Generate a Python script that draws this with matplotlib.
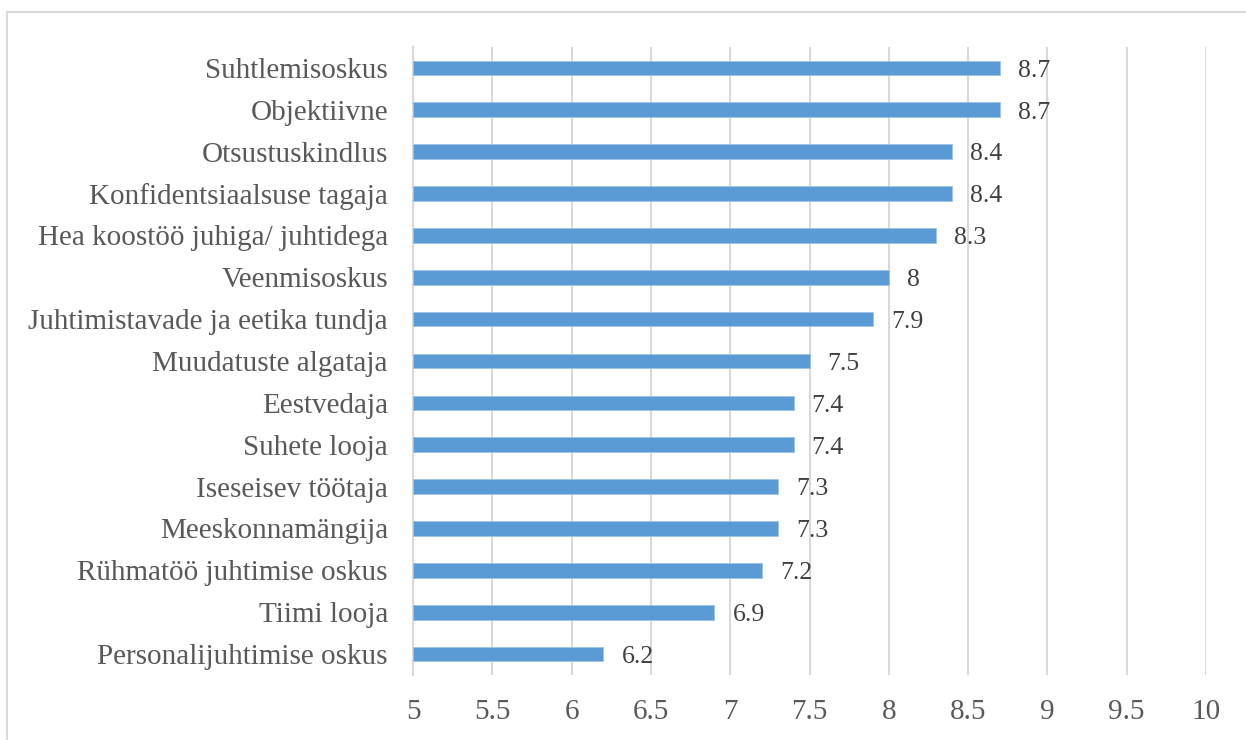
import matplotlib
matplotlib.use("Agg")
import matplotlib.pyplot as plt
from matplotlib.patches import Rectangle

categories = [
    "Suhtlemisoskus",
    "Objektiivne",
    "Otsustuskindlus",
    "Konfidentsiaalsuse tagaja",
    "Hea koostöö juhiga/ juhtidega",
    "Veenmisoskus",
    "Juhtimistavade ja eetika tundja",
    "Muudatuste algataja",
    "Eestvedaja",
    "Suhete looja",
    "Iseseisev töötaja",
    "Meeskonnamängija",
    "Rühmatöö juhtimise oskus",
    "Tiimi looja",
    "Personalijuhtimise oskus",
]
values = [8.7, 8.7, 8.4, 8.4, 8.3, 8.0, 7.9, 7.5, 7.4, 7.4, 7.3, 7.3, 7.2, 6.9, 6.2]
value_labels = ["8.7", "8.7", "8.4", "8.4", "8.3", "8", "7.9", "7.5", "7.4", "7.4",
                "7.3", "7.3", "7.2", "6.9", "6.2"]
x_ticks = [5, 5.5, 6, 6.5, 7, 7.5, 8, 8.5, 9, 9.5, 10]
x_tick_labels = ["5", "5.5", "6", "6.5", "7", "7.5", "8", "8.5", "9", "9.5", "10"]

BASE = 5.0
BAR_COLOR = "#5b9bd5"
TEXT_COLOR = "#595959"
GRID_COLOR = "#d9d9d9"
FONT = "Liberation Serif"
FS = 21

W, H = 1246, 740
fig = plt.figure(figsize=(W / 100, H / 100), dpi=100)
ax = fig.add_axes([413 / W, 1 - 675 / H, (1206 - 413) / W, (675 - 47) / H])

ypos = list(range(len(categories)))
widths = [v - BASE for v in values]
ax.barh(ypos, widths, left=BASE, height=0.35, color=BAR_COLOR,
        edgecolor="#9dc3e6", linewidth=0.6, zorder=3)

for y, v, lab in zip(ypos, values, value_labels):
    ax.annotate(lab, xy=(v, y), xytext=(13, -2), textcoords="offset points",
                va="center", ha="left", fontsize=FS - 2.5, color="#404040",
                family=FONT)

ax.set_xlim(5, 10)
ax.set_ylim(len(categories) - 0.5, -0.5)
ax.set_yticks(ypos)
ax.set_yticklabels(categories, fontsize=FS, color=TEXT_COLOR, family=FONT)
ax.set_xticks(x_ticks)
ax.set_xticklabels(x_tick_labels, fontsize=FS, color=TEXT_COLOR, family=FONT)
ax.tick_params(axis="both", length=0)
ax.tick_params(axis="y", pad=18)
ax.tick_params(axis="x", pad=17)

ax.grid(axis="x", color=GRID_COLOR, linewidth=1.5, zorder=0)
ax.grid(axis="y", visible=False)
for side in ("top", "right", "bottom"):
    ax.spines[side].set_visible(False)
ax.spines["left"].set_color(GRID_COLOR)
ax.spines["left"].set_linewidth(1.5)
ax.spines["left"].set_zorder(1)

# light frame around the chart area
fig.patches.append(Rectangle((7 / W, -0.1), 1.2, 1.1 - 12 / H,
                             transform=fig.transFigure, fill=False,
                             edgecolor="#d9d9d9", linewidth=1.5))

fig.savefig("out.png", dpi=100)
